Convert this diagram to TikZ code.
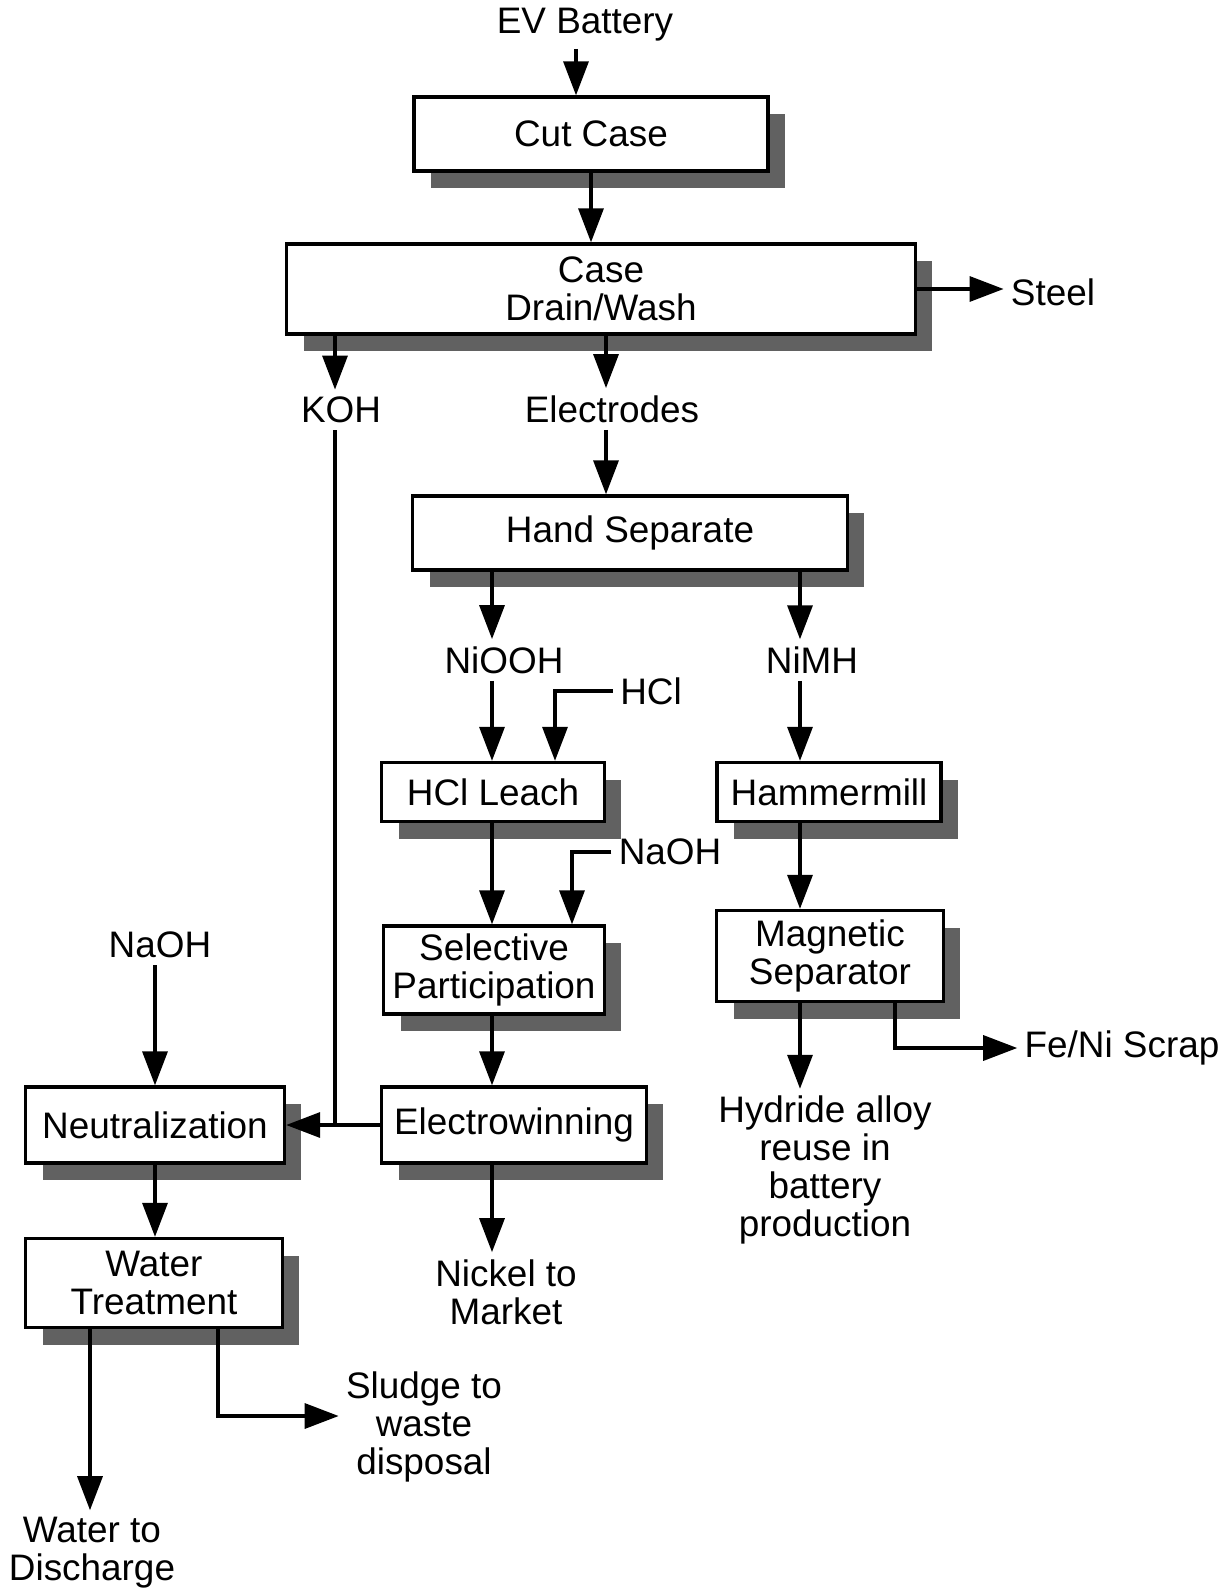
\documentclass[tikz,border=0pt]{standalone}
\usepackage{fontspec}
\setmainfont{Liberation Sans}
\usetikzlibrary{arrows.meta,shadows}

\tikzset{
    procbox/.style={draw,fill=white,line width=1.9pt,inner sep=0pt,align=center,
        drop shadow={shadow xshift=0.34cm,shadow yshift=-0.34cm,fill=black!62,opacity=1}},
    flowtext/.style={align=center,inner sep=4pt},
    flow/.style={line width=1.9pt,-{Triangle[length=0.68cm,width=0.5cm]}},
    feed/.style={line width=1.9pt}
}

\begin{document}
\begin{tikzpicture}[x=0.02cm,y=-0.02cm,font=\fontsize{21}{21.5}\selectfont]
    \useasboundingbox (0,0) rectangle (1225,1595);
    \coordinate (colev) at (576,0);
    \coordinate (colk) at (335,0);
    \coordinate (cole) at (606,0);
    \coordinate (cola) at (492,0);
    \coordinate (colb) at (800,0);
    \coordinate (colhcl) at (555,0);
    \coordinate (colna) at (572,0);
    \coordinate (colfe) at (895,0);
    \coordinate (colw) at (90,0);
    \coordinate (cols) at (218,0);

    \node[procbox,minimum width=7.08cm,minimum height=1.48cm] (cut) at (591,134) {Cut Case};
    \node[procbox,minimum width=12.58cm,minimum height=1.8cm] (wash) at (601,289) {Case\\Drain/Wash};
    \node[procbox,minimum width=8.7cm,minimum height=1.48cm] (hand) at (630,533) {Hand Separate};
    \node[procbox,minimum width=4.46cm,minimum height=1.18cm] (leach) at (493,792) {HCl Leach};
    \node[procbox,minimum width=4.42cm,minimum height=1.76cm] (select) at (494,970) {Selective\\Participation};
    \node[procbox,minimum width=5.3cm,minimum height=1.52cm] (elec) at (514,1125) {Electrowinning};
    \node[procbox,minimum width=4.48cm,minimum height=1.18cm] (hammer) at (829,792) {Hammermill};
    \node[procbox,minimum width=4.54cm,minimum height=1.82cm] (magnet) at (830,956) {Magnetic\\Separator};
    \node[procbox,minimum width=5.18cm,minimum height=1.52cm] (neutral) at (155,1125) {Neutralization};
    \node[procbox,minimum width=5.14cm,minimum height=1.78cm] (water) at (154,1283) {Water\\Treatment};

    \node[flowtext] (ev) at (585,25) {EV Battery};
    \node[flowtext] (steel) at (1053,292) {Steel};
    \node[flowtext] (koh) at (341,410) {KOH};
    \node[flowtext] (elecd) at (612,409) {Electrodes};
    \node[flowtext] (niooh) at (504,660) {NiOOH};
    \node[flowtext] (nimh) at (812,660) {NiMH};
    \node[flowtext] (hcl) at (651,691) {HCl};
    \node[flowtext] (naohb) at (670,852) {NaOH};
    \node[flowtext] (naoha) at (160,945) {NaOH};
    \node[flowtext] (feni) at (1122,1048) {Fe/Ni Scrap};
    \node[flowtext] (hydride) at (825,1170) {Hydride alloy\\reuse in\\battery\\production};
    \node[flowtext] (nickel) at (506,1292) {Nickel to\\Market};
    \node[flowtext] (sludge) at (424,1427) {Sludge to\\waste\\disposal};
    \node[flowtext] (discharge) at (92,1553) {Water to\\Discharge};

    \draw[flow] (ev.south -| colev) -- (cut.north -| colev);
    \draw[flow] (cut.south) -- (cut.south |- wash.north);
    \draw[flow] (wash.east) -- (wash.east -| steel.west);
    \draw[flow] (wash.south -| colk) -- (koh.north -| colk);
    \draw[flow] (wash.south -| cole) -- (elecd.north -| cole);
    \draw[flow] (elecd.south -| cole) -- (hand.north -| cole);
    \draw[flow] (hand.south -| cola) -- (niooh.north -| cola);
    \draw[flow] (hand.south -| colb) -- (nimh.north -| colb);
    \draw[flow] (niooh.south -| cola) -- (leach.north -| cola);
    \draw[flow] (hcl.west) -| (leach.north -| colhcl);
    \draw[flow] (leach.south -| cola) -- (select.north -| cola);
    \draw[flow] (naohb.west) -| (select.north -| colna);
    \draw[flow] (select.south -| cola) -- (elec.north -| cola);
    \draw[flow] (elec.south -| cola) -- (nickel.north -| cola);
    \draw[flow] (elec.west) -- (neutral.east);
    \draw[feed] (koh.south -| colk) -- (neutral.east -| colk);
    \draw[flow] (nimh.south -| colb) -- (hammer.north -| colb);
    \draw[flow] (hammer.south -| colb) -- (magnet.north -| colb);
    \draw[flow] (magnet.south -| colb) -- (hydride.north -| colb);
    \draw[flow] (magnet.south -| colfe) |- (feni.west);
    \draw[flow] (naoha.south -| neutral.north) -- (neutral.north);
    \draw[flow] (neutral.south) -- (water.north -| neutral.south);
    \draw[flow] (water.south -| colw) -- (discharge.north -| colw);
    \draw[flow] (water.south -| cols) |- ([yshift=0.22cm]sludge.west);
\end{tikzpicture}
\end{document}
